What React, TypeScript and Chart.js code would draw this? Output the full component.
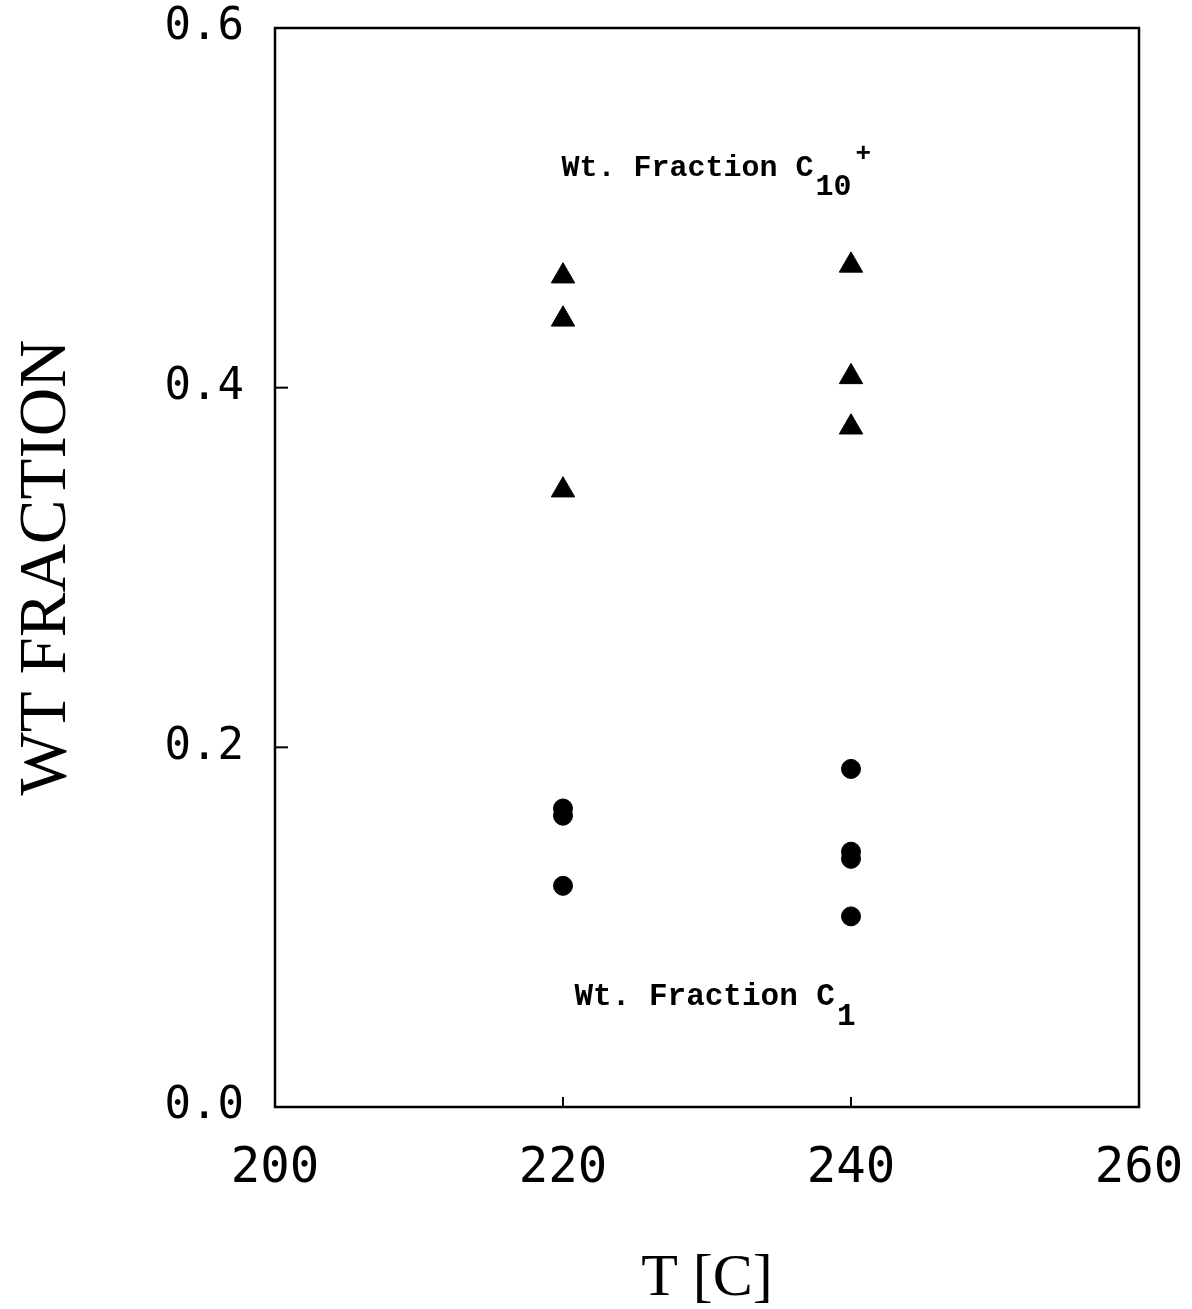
import React, { useEffect, useRef } from 'react';
import { Chart, registerables } from 'chart.js';

Chart.register(...registerables);

// ---- data ----
const temperatures = [220, 240];
const c10At220 = [0.462, 0.438, 0.343];
const c10At240 = [0.468, 0.406, 0.378];
const c1At220 = [0.166, 0.162, 0.123];
const c1At240 = [0.188, 0.142, 0.138, 0.106];
const xTickValues = [200, 220, 240, 260];
const yTickValues = [0.0, 0.2, 0.4, 0.6];
const innerXTicks = [220, 240];
const innerYTicks = [0.2, 0.4];

const annotationC10 = { x: 219.9, y: 0.522, text: 'Wt. Fraction C', sub: '10', sup: '+' };
const annotationC1 = { x: 220.8, y: 0.061, text: 'Wt. Fraction C', sub: '1', sup: '' };

const toPoints = (t: number, vals: number[]) => vals.map((v) => ({ x: t, y: v }));

const c10Points = [...toPoints(temperatures[0], c10At220), ...toPoints(temperatures[1], c10At240)];
const c1Points = [...toPoints(temperatures[0], c1At220), ...toPoints(temperatures[1], c1At240)];

const W = 1192;
const H = 1309;
const AREA_LEFT = 275;
const AREA_RIGHT = 1139;
const AREA_TOP = 28;
const AREA_BOTTOM = 1107;

const zeroPad = (scale: any) => {
  scale.paddingTop = 0;
  scale.paddingBottom = 0;
  scale.paddingLeft = 0;
  scale.paddingRight = 0;
};

const framePlugin = {
  id: 'framePlugin',
  afterDraw(chart: any) {
    const { ctx, chartArea: a, scales } = chart;
    ctx.save();
    ctx.strokeStyle = '#000';
    ctx.lineWidth = 2.5;
    ctx.strokeRect(a.left, a.top, a.right - a.left, a.bottom - a.top);
    ctx.lineWidth = 2;
    innerYTicks.forEach((v) => {
      const y = scales.y.getPixelForValue(v);
      ctx.beginPath();
      ctx.moveTo(a.left, y);
      ctx.lineTo(a.left + 13, y);
      ctx.stroke();
    });
    innerXTicks.forEach((v) => {
      const x = scales.x.getPixelForValue(v);
      ctx.beginPath();
      ctx.moveTo(x, a.bottom);
      ctx.lineTo(x, a.bottom - 10);
      ctx.stroke();
    });

    const drawAnn = (ann: any, size: number, subDy: number) => {
      const x = scales.x.getPixelForValue(ann.x);
      const y = scales.y.getPixelForValue(ann.y);
      ctx.fillStyle = '#000';
      ctx.textBaseline = 'middle';
      ctx.textAlign = 'left';
      ctx.font = `bold ${size}px "Liberation Mono", "DejaVu Sans Mono", monospace`;
      ctx.fillText(ann.text, x, y);
      const w = ctx.measureText(ann.text).width;
      ctx.fillText(ann.sub, x + w + 2, y + subDy);
      const sw = ctx.measureText(ann.sub).width;
      if (ann.sup) {
        ctx.font = `bold ${size - 4}px "Liberation Mono", "DejaVu Sans Mono", monospace`;
        ctx.fillText(ann.sup, x + w + sw + 6, y - 14);
      }
    };
    drawAnn(annotationC10, 30, 19);
    drawAnn(annotationC1, 31, 20);
    ctx.restore();
  },
};

export default function App() {
  const canvasRef = useRef<HTMLCanvasElement | null>(null);

  useEffect(() => {
    if (!canvasRef.current) return;
    const chart = new Chart(canvasRef.current, {
      type: 'scatter',
      data: {
        datasets: [
          {
            label: 'Wt. Fraction C10+',
            data: c10Points,
            pointStyle: 'triangle',
            pointRadius: 13.5,
            backgroundColor: '#000',
            borderColor: '#000',
            borderWidth: 1,
          },
          {
            label: 'Wt. Fraction C1',
            data: c1Points,
            pointStyle: 'circle',
            pointRadius: 9.5,
            backgroundColor: '#000',
            borderColor: '#000',
            borderWidth: 1,
          },
        ],
      },
      options: {
        responsive: false,
        animation: false,
        layout: { padding: { left: 0, top: AREA_TOP, right: W - AREA_RIGHT, bottom: 0 } },
        plugins: { legend: { display: false }, tooltip: { enabled: false } },
        scales: {
          x: {
            type: 'linear',
            min: 200,
            max: 260,
            afterBuildTicks: (scale: any) => {
              scale.ticks = xTickValues.map((v) => ({ value: v }));
            },
            afterFit: (scale: any) => {
              scale.height = H - AREA_BOTTOM;
              zeroPad(scale);
            },
            grid: { display: false, drawTicks: false },
            border: { display: false },
            ticks: {
              color: '#000',
              padding: 38,
              maxRotation: 0,
              font: { family: '"DejaVu Sans Mono", monospace', size: 49, lineHeight: 1 },
              callback: (v: any) => String(v),
            },
            title: {
              display: true,
              text: 'T [C]',
              color: '#000',
              font: { family: '"Liberation Serif", "Times New Roman", serif', size: 60, lineHeight: 1 },
              padding: { top: 0, bottom: 0 },
            },
          },
          y: {
            type: 'linear',
            min: 0,
            max: 0.6,
            afterBuildTicks: (scale: any) => {
              scale.ticks = yTickValues.map((v) => ({ value: v }));
            },
            afterFit: (scale: any) => {
              scale.width = AREA_LEFT;
              zeroPad(scale);
            },
            grid: { display: false, drawTicks: false },
            border: { display: false },
            ticks: {
              color: '#000',
              padding: 31,
              font: { family: '"DejaVu Sans Mono", monospace', size: 44, lineHeight: 1 },
              callback: (v: any) => Number(v).toFixed(1),
            },
            title: {
              display: true,
              text: 'WT FRACTION',
              color: '#000',
              font: { family: '"Liberation Serif", "Times New Roman", serif', size: 67, lineHeight: 1 },
              padding: { top: 14, bottom: 0 },
            },
          },
        },
      },
      plugins: [framePlugin],
    });
    return () => chart.destroy();
  }, []);

  return (
    <div style={{ position: 'fixed', left: 0, top: 0, width: W, height: H, background: '#fff' }}>
      <canvas ref={canvasRef} width={W} height={H} style={{ width: W, height: H, display: 'block' }} />
    </div>
  );
}
